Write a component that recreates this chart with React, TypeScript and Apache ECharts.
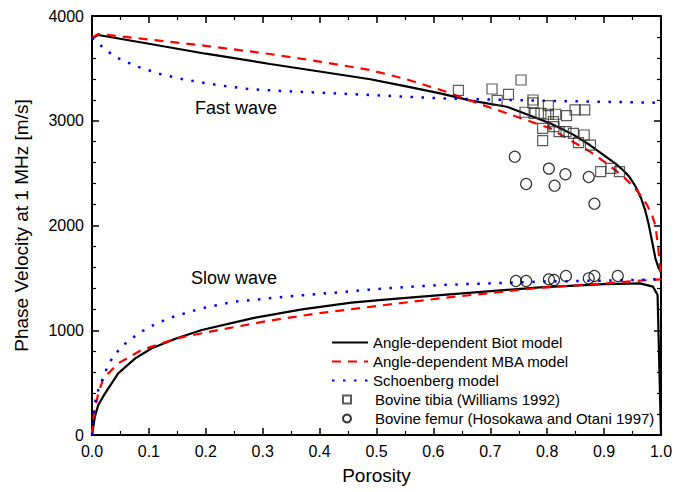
import React, { useEffect, useRef } from "react";
import * as echarts from "echarts";

const biotFast: number[][] = [[0,3790],[0.011,3819],[0.1,3735],[0.2,3640],[0.313,3542],[0.4,3470],[0.489,3396],[0.55,3330],[0.612,3262],[0.664,3195],[0.729,3134],[0.805,2976],[0.845,2870],[0.875,2768],[0.9,2670],[0.92,2590],[0.934,2525],[0.945,2460],[0.955,2375],[0.965,2260],[0.972,2150],[0.978,2020],[0.985,1830],[0.99,1690],[0.995,1605],[1.0,1550]];
const mbaFast: number[][] = [[0,3790],[0.011,3828],[0.1,3775],[0.2,3715],[0.313,3637],[0.4,3565],[0.489,3484],[0.55,3400],[0.623,3277],[0.652,3215],[0.729,3071],[0.805,2928],[0.875,2705],[0.9,2610],[0.934,2466],[0.96,2320],[0.975,2200],[0.985,2090],[0.99,2000],[0.995,1800],[1.0,1480]];
const schFast: number[][] = [[0,3790],[0.02,3697],[0.04,3611],[0.08,3516],[0.12,3446],[0.16,3396],[0.22,3341],[0.28,3300],[0.336,3284],[0.489,3246],[0.612,3214],[0.8,3190],[1.0,3172]];
const biotSlow: number[][] = [[0,0],[0.005,175],[0.011,286],[0.023,398],[0.046,589],[0.076,732],[0.105,828],[0.149,923],[0.193,1002],[0.281,1114],[0.369,1200],[0.456,1263],[0.515,1292],[0.612,1336],[0.787,1410],[0.9,1440],[0.963,1448],[0.986,1416],[0.994,1336],[1.0,0]];
const mbaSlow: number[][] = [[0,0],[0.002,150],[0.005,239],[0.011,398],[0.02,541],[0.046,684],[0.087,811],[0.149,923],[0.222,1002],[0.31,1090],[0.398,1162],[0.515,1241],[0.612,1305],[0.787,1405],[0.904,1448],[0.963,1473],[1.0,1486]];
const schSlow: number[][] = [[0,0],[0.002,150],[0.005,303],[0.011,430],[0.026,637],[0.037,748],[0.055,859],[0.076,945],[0.096,1018],[0.134,1114],[0.193,1210],[0.251,1273],[0.339,1320],[0.427,1359],[0.515,1400],[0.612,1432],[0.787,1464],[0.963,1480],[1.0,1490]];
const tibia: number[][] = [[0.644,3290],[0.703,3303],[0.754,3389],[0.712,3195],[0.732,3252],[0.775,3198],[0.775,3170],[0.802,3144],[0.761,3081],[0.777,3071],[0.789,3071],[0.802,3062],[0.815,3062],[0.834,3048],[0.849,3103],[0.866,3103],[0.811,2991],[0.812,2943],[0.792,2928],[0.821,2896],[0.833,2896],[0.846,2880],[0.865,2864],[0.855,2791],[0.876,2768],[0.792,2810],[0.894,2514],[0.912,2546],[0.927,2514]];
const femur: number[][] = [[0.743,2657],[0.803,2543],[0.832,2489],[0.873,2463],[0.763,2396],[0.813,2380],[0.883,2208],[0.745,1470],[0.763,1470],[0.803,1486],[0.812,1480],[0.833,1518],[0.873,1496],[0.883,1518],[0.924,1518]];

const names = ["Angle-dependent Biot model", "Angle-dependent MBA model", "Schoenberg model", "Bovine tibia (Williams 1992)", "Bovine femur (Hosokawa and Otani 1997)"];
const xTicks = { min: 0, max: 1, interval: 0.1 };
const yTicks = { min: 0, max: 4000, interval: 1000 };

const FONT = "'Liberation Sans', Arial, Helvetica, sans-serif";
const SQUARE = "path://M0,0L10,0L10,10L0,10Z";

export default function App() {
  const ref = useRef<HTMLDivElement>(null);
  useEffect(() => {
    document.body.style.margin = "0";
    const chart = echarts.init(ref.current!, null, { renderer: "svg" });
    const axisCommon = (pos: string, showLabel: boolean, split: number, fmt: (v: number) => string) => ({
      type: "value",
      position: pos,
      axisLine: { show: true, onZero: false, lineStyle: { color: "#000", width: 2 } },
      axisTick: { show: true, inside: true, length: 7, lineStyle: { color: "#000", width: 1.5 } },
      minorTick: { show: true, splitNumber: split, length: 4, lineStyle: { color: "#000", width: 1.2 } },
      splitLine: { show: false },
      axisLabel: { show: showLabel, color: "#000", fontSize: 16, fontFamily: FONT, margin: 8, formatter: fmt },
    });
    const fx = (v: number) => v.toFixed(1);
    const fy = (v: number) => String(Math.round(v));
    const blackStyle = { color: "#000", width: 2.2, type: "solid" };
    const redStyle = { color: "#ff0000", width: 2.2, type: [9, 7] };
    const blueStyle = { color: "#0000ff", width: 2.5, type: [2.5, 8.5] };
    const lineSeries = (name: string, data: number[][], ls: any, color: string) => ({
      name, type: "line", data, symbol: "none", showSymbol: false, smooth: false,
      lineStyle: ls, itemStyle: { color }, z: 2,
    });
    const legendText = { fontSize: 15, color: "#000", fontFamily: FONT, lineHeight: 15 };
    chart.setOption({
      animation: false,
      textStyle: { fontFamily: FONT },
      grid: { left: 92, right: 16, top: 16, bottom: 57 },
      xAxis: [
        { ...axisCommon("bottom", true, 2, fx), ...xTicks,
          name: "Porosity", nameLocation: "middle", nameGap: 31, nameTextStyle: { color: "#000", fontSize: 19, fontFamily: FONT } },
        { ...axisCommon("top", false, 2, fx), ...xTicks },
      ],
      yAxis: [
        { ...axisCommon("left", true, 5, fy), ...yTicks,
          name: "Phase Velocity at 1 MHz [m/s]", nameLocation: "middle", nameGap: 61, nameTextStyle: { color: "#000", fontSize: 19, fontFamily: FONT } },
        { ...axisCommon("right", false, 5, fy), ...yTicks },
      ],
      legend: [
        { data: names.slice(0, 3), orient: "vertical", left: 331, top: 335, padding: 0, itemWidth: 36, itemHeight: 12, itemGap: 4,
          itemStyle: { opacity: 0 }, textStyle: legendText },
        { data: [{ name: names[3], icon: SQUARE }, { name: names[4], icon: "circle" }], orient: "vertical", left: 342, top: 392, padding: 0,
          itemWidth: 36, itemHeight: 8, itemGap: 4, symbolKeepAspect: true, textStyle: { ...legendText, padding: [0, 0, 0, 5] } },
      ],
      graphic: [
        { type: "text", left: 195, top: 99, style: { text: "Fast wave", fontSize: 18, fill: "#000", fontFamily: FONT } },
        { type: "text", left: 191, top: 269, style: { text: "Slow wave", fontSize: 18, fill: "#000", fontFamily: FONT } },
      ],
      series: [
        { ...lineSeries(names[0], biotFast, blackStyle, "#000") },
        { ...lineSeries(names[0], biotSlow, blackStyle, "#000") },
        { ...lineSeries(names[1], mbaFast, redStyle, "#ff0000") },
        { ...lineSeries(names[1], mbaSlow, redStyle, "#ff0000") },
        { ...lineSeries(names[2], schFast, blueStyle, "#0000ff") },
        { ...lineSeries(names[2], schSlow, blueStyle, "#0000ff") },
        { name: names[3], type: "scatter", data: tibia, symbol: SQUARE, symbolSize: 10, symbolKeepAspect: true, z: 3,
          itemStyle: { color: "rgba(255,255,255,0)", borderColor: "#333", borderWidth: 1.2 } },
        { name: names[4], type: "scatter", data: femur, symbol: "circle", symbolSize: 11, z: 3,
          itemStyle: { color: "rgba(255,255,255,0)", borderColor: "#000", borderWidth: 1.2 } },
      ],
    });
    return () => chart.dispose();
  }, []);
  return <div ref={ref} style={{ width: 677, height: 492 }} />;
}
